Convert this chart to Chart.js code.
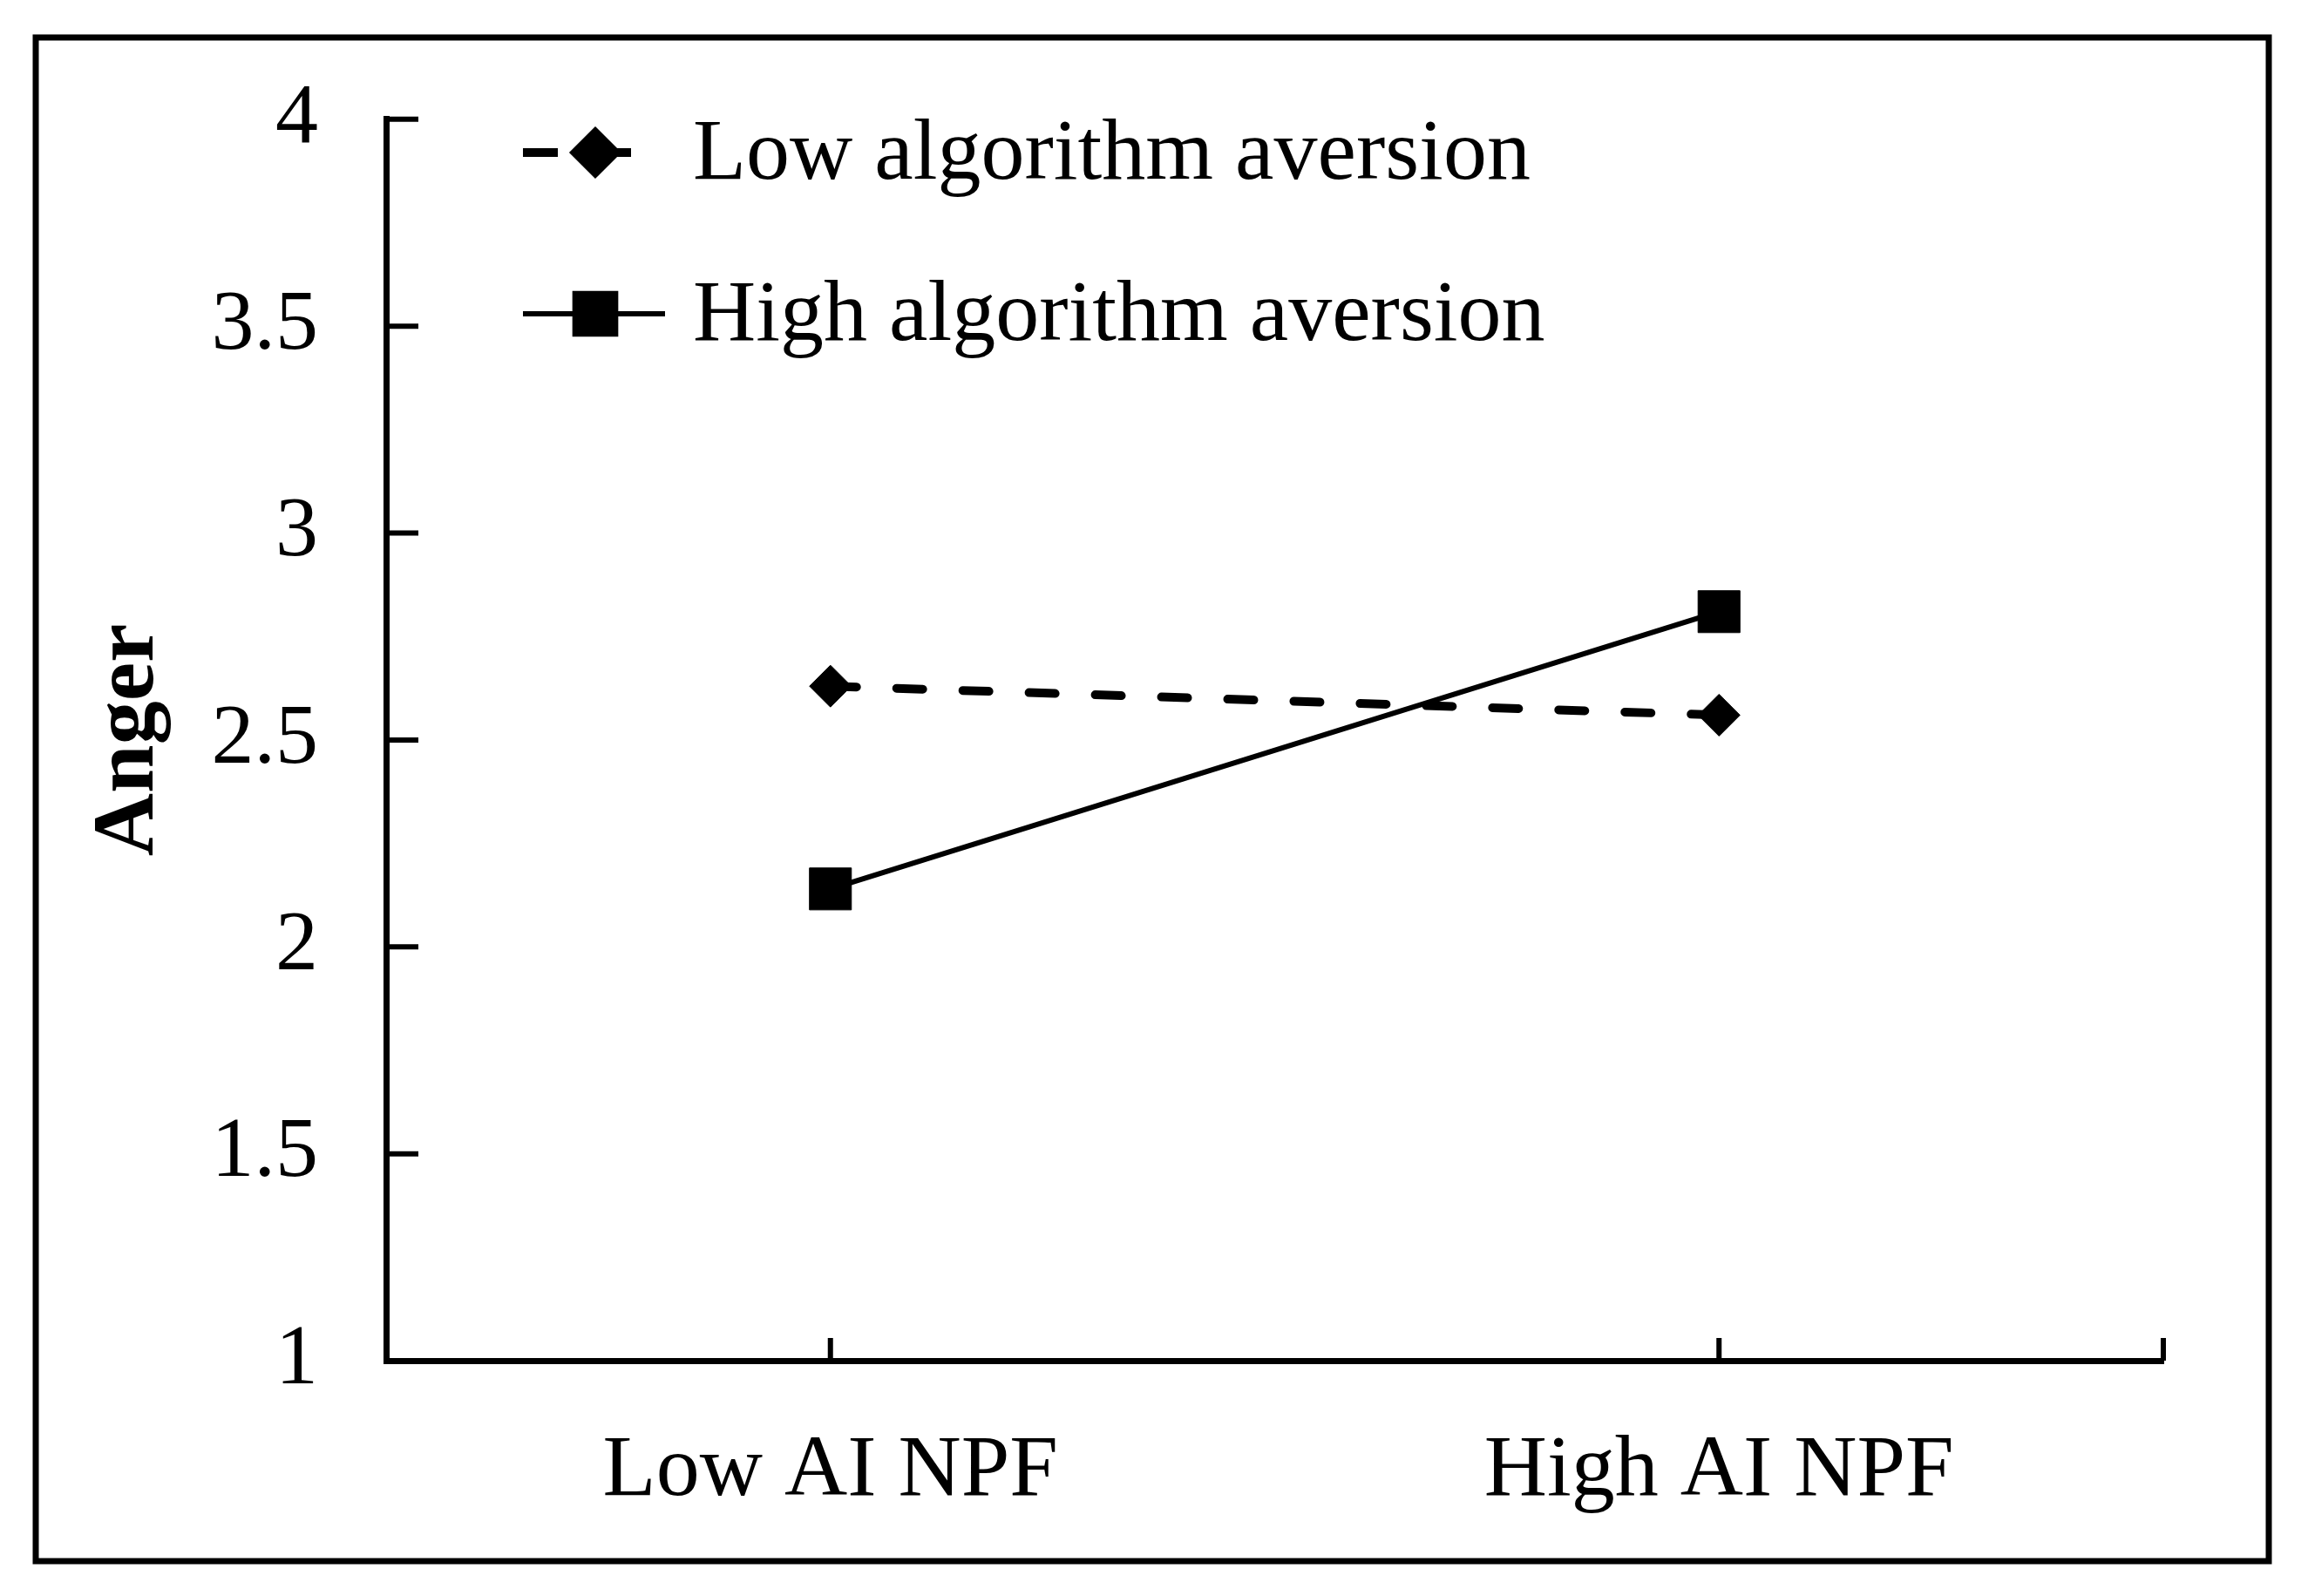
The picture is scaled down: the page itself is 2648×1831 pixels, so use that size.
<!DOCTYPE html>
<html lang="en">
<head>
<meta charset="UTF-8">
<title>Anger</title>
<script src="https://cdn.jsdelivr.net/npm/chart.js"></script>
<style>
    body {
        margin: 0;
        background: white;
    }
    canvas {
        display: block;
    }
</style>
</head>
<body>
<canvas id="chart" width="2648" height="1831"></canvas>
<script>
    // data
    const categories = ["Low AI NPF", "High AI NPF"];
    const seriesNames = ["Low algorithm aversion", "High algorithm aversion"];
    const lowAversion = [2.63, 2.56];
    const highAversion = [2.14, 2.81];
    const yTicks = [1, 1.5, 2, 2.5, 3, 3.5, 4];

    const serif = "'Liberation Serif', 'Times New Roman', serif";

    // outer frame round the whole figure
    const framePlugin = {
        id: "frame",
        beforeDraw(chart) {
            const ctx = chart.ctx;
            ctx.save();
            ctx.fillStyle = "white";
            ctx.fillRect(0, 0, chart.width, chart.height);
            ctx.strokeStyle = "black";
            ctx.lineWidth = 7;
            ctx.strokeRect(41, 43, 2603 - 41, 1791 - 43);
            ctx.restore();
        }
    };

    // tick marks point into the plot, like the original
    const innerTicks = {
        id: "innerTicks",
        afterDraw(chart) {
            const ctx = chart.ctx;
            const x = chart.scales.x, y = chart.scales.y;
            ctx.save();
            ctx.strokeStyle = "black";
            ctx.lineWidth = 6;
            ctx.beginPath();
            y.ticks.forEach(t => {
                let py = y.getPixelForValue(t.value);
                ctx.moveTo(y.right, py);
                ctx.lineTo(y.right + 37, py);
            });
            let xs = categories.map((c, i) => x.getPixelForValue(i));
            xs.push(x.right);
            xs.forEach(px => {
                ctx.moveTo(px, x.top);
                ctx.lineTo(px, x.top - 26);
            });
            ctx.stroke();
            ctx.restore();
        }
    };

    // legend drawn inside the plot area, line + marker + label
    const innerLegend = {
        id: "innerLegend",
        afterDraw(chart) {
            const ctx = chart.ctx;
            const rows = [175, 360];
            chart.data.datasets.forEach((ds, i) => {
                let cy = rows[i];
                ctx.save();
                ctx.strokeStyle = "black";
                ctx.fillStyle = "black";
                ctx.lineWidth = ds.borderWidth;
                ctx.lineCap = "butt";
                if (ds.borderDash) ctx.setLineDash([40, 22, 200]);
                ctx.beginPath();
                ctx.moveTo(600, cy);
                ctx.lineTo(i === 0 ? 724 : 763, cy);
                ctx.stroke();
                ctx.setLineDash([]);
                Chart.helpers.drawPoint(ctx, {
                    pointStyle: ds.pointStyle,
                    rotation: 0,
                    radius: ds.legendRadius,
                    borderWidth: 1
                }, 683, cy);
                ctx.font = "100px " + serif;
                ctx.textBaseline = "middle";
                ctx.textAlign = "left";
                ctx.fillText(ds.label, 795, cy + 4);
                ctx.restore();
            });
        }
    };

    new Chart(document.getElementById("chart"), {
        type: "line",
        data: {
            labels: categories,
            datasets: [
                {
                    label: seriesNames[0],
                    data: lowAversion,
                    borderColor: "black",
                    backgroundColor: "black",
                    borderWidth: 10,
                    borderDash: [30, 46],
                    borderCapStyle: "round",
                    pointStyle: "rectRot",
                    pointRadius: 24,
                    pointBorderWidth: 1,
                    legendRadius: 23,
                    tension: 0
                },
                {
                    label: seriesNames[1],
                    data: highAversion,
                    borderColor: "black",
                    backgroundColor: "black",
                    borderWidth: 6,
                    pointStyle: "rect",
                    pointRadius: 34,
                    pointBorderWidth: 1,
                    legendRadius: 33,
                    tension: 0
                }
            ]
        },
        options: {
            responsive: false,
            animation: false,
            devicePixelRatio: 1,
            layout: {
                padding: {left: 0, top: 133, right: 166, bottom: 0}
            },
            plugins: {
                legend: {display: false},
                tooltip: {enabled: false}
            },
            scales: {
                x: {
                    offset: true,
                    grid: {display: false, drawTicks: false},
                    border: {display: true, color: "black", width: 7},
                    ticks: {
                        color: "black",
                        padding: 68,
                        font: {family: serif, size: 100}
                    },
                    afterFit(scale) { scale.height = 270; }
                },
                y: {
                    min: 1,
                    max: 4,
                    grid: {display: false, drawTicks: false},
                    border: {display: true, color: "black", width: 7},
                    afterBuildTicks(scale) {
                        scale.ticks = yTicks.map(v => ({value: v}));
                    },
                    ticks: {
                        color: "black",
                        padding: 78,
                        font: {family: serif, size: 98},
                        callback: v => String(v)
                    },
                    title: {
                        display: true,
                        text: "Anger",
                        color: "black",
                        padding: {top: 89, bottom: 0},
                        font: {family: serif, size: 100, weight: "bold"}
                    },
                    afterFit(scale) { scale.width = 443; }
                }
            }
        },
        plugins: [framePlugin, innerTicks, innerLegend]
    });
</script>
</body>
</html>
